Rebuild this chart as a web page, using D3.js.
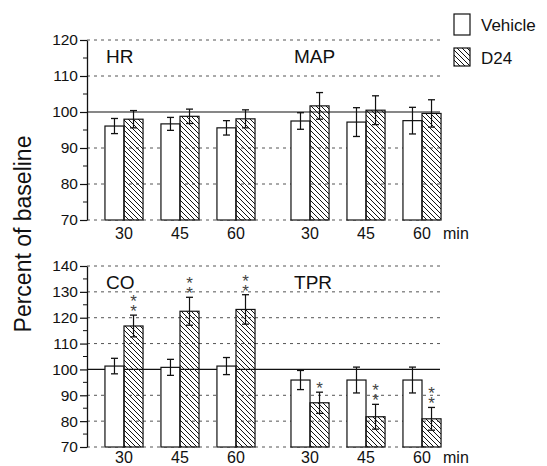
<!DOCTYPE html>
<html>
<head>
<meta charset="utf-8">
<script src="https://cdn.jsdelivr.net/npm/d3@7"></script>
<style>
  body { margin: 0; background: #fff; }
  svg { font-family: "Liberation Sans", Arial, sans-serif; }
</style>
</head>
<body>
<svg id="chart" width="547" height="466"></svg>
<script>
// values (percent of baseline, mean and SE)
const times = [30, 45, 60];
const series = ["Vehicle", "D24"];

const hrVehicle = [96.1, 96.7, 95.6], hrVehicleErr = [2.1, 1.8, 2.0];
const hrD24 = [98.0, 98.8, 98.1], hrD24Err = [2.4, 2.0, 2.5];
const mapVehicle = [97.5, 97.2, 97.6], mapVehicleErr = [2.3, 4.0, 3.7];
const mapD24 = [101.7, 100.5, 99.6], mapD24Err = [3.7, 4.0, 3.8];
const coVehicle = [101.3, 100.8, 101.3], coVehicleErr = [3.0, 3.1, 3.3];
const coD24 = [116.8, 122.5, 123.2], coD24Err = [4.2, 5.4, 5.7];
const tprVehicle = [95.9, 95.9, 95.9], tprVehicleErr = [3.7, 5.0, 5.0];
const tprD24 = [87.1, 81.7, 80.9], tprD24Err = [4.1, 4.8, 4.4];
const coStars = ["**", "**", "**"];
const tprStars = ["*", "**", "**"];

const topTicks = [70, 80, 90, 100, 110, 120];
const bottomTicks = [70, 80, 90, 100, 110, 120, 130, 140];

const svg = d3.select("#chart");
const axisX = 87, gridEnd = 440;

// hatch for D24
const defs = svg.append("defs");
defs.append("pattern")
  .attr("id", "hatch")
  .attr("patternUnits", "userSpaceOnUse")
  .attr("width", 5).attr("height", 5)
  .append("path")
  .attr("d", "M-1,-1L6,6M-1,4L1,6M4,-1L6,1")
  .attr("stroke", "#111").attr("stroke-width", 1);

const fills = { Vehicle: "#fff", D24: "url(#hatch)" };

// left / right half of each row, then time groups, then the two bars
const xPanel = d3.scaleBand().domain(["left", "right"]).range([96, 450]).paddingInner(0.097);
const xTime = d3.scaleBand().domain(times).range([0, xPanel.bandwidth()]).paddingInner(0.32).paddingOuter(0.16);
const xSeries = d3.scaleBand().domain(series).range([0, xTime.bandwidth()]);

function makeRows(vals, errs, stars) {
  return times.map((t, i) => ({ time: t, value: vals[i], err: errs[i], star: stars ? stars[i] : "" }));
}

const rows = [
  {
    y: d3.scaleLinear().domain([70, 120]).range([220, 40]),
    ticks: topTicks, labelY: 239,
    panels: [
      { side: "left", title: "HR", data: { Vehicle: makeRows(hrVehicle, hrVehicleErr), D24: makeRows(hrD24, hrD24Err) } },
      { side: "right", title: "MAP", data: { Vehicle: makeRows(mapVehicle, mapVehicleErr), D24: makeRows(mapD24, mapD24Err) } }
    ]
  },
  {
    y: d3.scaleLinear().domain([70, 140]).range([447, 266]),
    ticks: bottomTicks, labelY: 463,
    panels: [
      { side: "left", title: "CO", data: { Vehicle: makeRows(coVehicle, coVehicleErr), D24: makeRows(coD24, coD24Err, coStars) } },
      { side: "right", title: "TPR", data: { Vehicle: makeRows(tprVehicle, tprVehicleErr), D24: makeRows(tprD24, tprD24Err, tprStars) } }
    ]
  }
];

rows.forEach(row => {
  const y = row.y;
  const g = svg.append("g");

  // dashed grid
  g.selectAll(".grid")
    .data(row.ticks.filter(d => d !== 100))
    .enter().append("line")
      .attr("x1", axisX).attr("x2", gridEnd)
      .attr("y1", d => y(d)).attr("y2", d => y(d))
      .attr("stroke", "#555").attr("stroke-width", 1)
      .attr("stroke-dasharray", "3,4");

  // baseline at 100
  g.append("line")
    .attr("x1", axisX).attr("x2", gridEnd)
    .attr("y1", y(100)).attr("y2", y(100))
    .attr("stroke", "#111").attr("stroke-width", 1.2);

  // y axis with minor ticks
  const yAxis = d3.axisLeft(y).tickValues(row.ticks).tickSize(7).tickPadding(2).tickSizeOuter(0);
  const ax = g.append("g").attr("transform", `translate(${axisX},0)`).call(yAxis);
  ax.select(".domain").attr("stroke", "#111").attr("stroke-width", 1.3);
  ax.selectAll(".tick line").attr("stroke", "#111").attr("stroke-width", 1.2);
  ax.selectAll(".tick text").attr("font-size", 15.5).attr("fill", "#111")
    .attr("font-family", "Liberation Sans, Arial, sans-serif");
  const minor = d3.range(row.ticks[0] + 5, row.ticks[row.ticks.length - 1], 10);
  g.selectAll(".minor").data(minor).enter().append("line")
    .attr("x1", axisX - 4).attr("x2", axisX)
    .attr("y1", d => y(d)).attr("y2", d => y(d))
    .attr("stroke", "#111").attr("stroke-width", 1);

  row.panels.forEach(p => {
    const px = xPanel(p.side);
    const pg = g.append("g").attr("transform", `translate(${px},0)`);

    pg.append("text")
      .attr("x", p.side === "left" ? 10 : 12)
      .attr("y", y.range()[1] + 23)
      .attr("font-size", 19).attr("fill", "#111")
      .text(p.title);

    series.forEach(s => {
      const bars = pg.selectAll(".bar-" + s).data(p.data[s]).enter().append("g")
        .attr("transform", d => `translate(${xTime(d.time) + xSeries(s)},0)`);
      const w = xSeries.bandwidth();

      bars.append("rect")
        .attr("x", 0).attr("width", w)
        .attr("y", d => y(d.value))
        .attr("height", d => y(70) - y(d.value))
        .attr("fill", fills[s])
        .attr("stroke", "#111").attr("stroke-width", 1.2);

      // error bars
      bars.append("line")
        .attr("x1", w / 2).attr("x2", w / 2)
        .attr("y1", d => y(d.value + d.err)).attr("y2", d => y(d.value - d.err))
        .attr("stroke", "#111").attr("stroke-width", 1.2);
      [1, -1].forEach(sign => {
        bars.append("line")
          .attr("x1", w / 2 - 3.5).attr("x2", w / 2 + 3.5)
          .attr("y1", d => y(d.value + sign * d.err)).attr("y2", d => y(d.value + sign * d.err))
          .attr("stroke", "#111").attr("stroke-width", 1.3);
      });

      // significance asterisks, stacked vertically (one text, vertical writing)
      bars.filter(d => d.star).append("text")
        .attr("x", w / 2)
        .attr("y", d => y(d.value + d.err) - 3)
        .attr("text-anchor", "end")
        .style("writing-mode", "vertical-rl")
        .style("text-orientation", "upright")
        .style("letter-spacing", "-9px")
        .attr("font-size", 17).attr("fill", "#444")
        .text(d => d.star);
    });

    // time labels
    pg.selectAll(".tl").data(times).enter().append("text")
      .attr("x", d => xTime(d) + xTime.bandwidth() / 2)
      .attr("y", row.labelY)
      .attr("text-anchor", "middle")
      .attr("font-size", 16).attr("fill", "#111")
      .text(d => d);
  });

  svg.append("text")
    .attr("x", 443).attr("y", row.labelY)
    .attr("font-size", 16).attr("fill", "#111")
    .text("min");
});

// y label
svg.append("text")
  .attr("transform", "translate(31,234) rotate(-90)")
  .attr("text-anchor", "middle")
  .attr("font-size", 23).attr("fill", "#111")
  .text("Percent of baseline");

// legend
const legend = svg.append("g").attr("transform", "translate(454,0)");
const legY = [14, 48];
series.forEach((s, i) => {
  legend.append("rect")
    .attr("x", 0).attr("y", legY[i])
    .attr("width", 16).attr("height", i === 0 ? 21 : 18)
    .attr("fill", fills[s])
    .attr("stroke", "#111").attr("stroke-width", 1.2);
  legend.append("text")
    .attr("x", 27).attr("y", legY[i] + (i === 0 ? 17 : 16))
    .attr("font-size", 17).attr("fill", "#111")
    .text(s);
});
</script>
</body>
</html>
